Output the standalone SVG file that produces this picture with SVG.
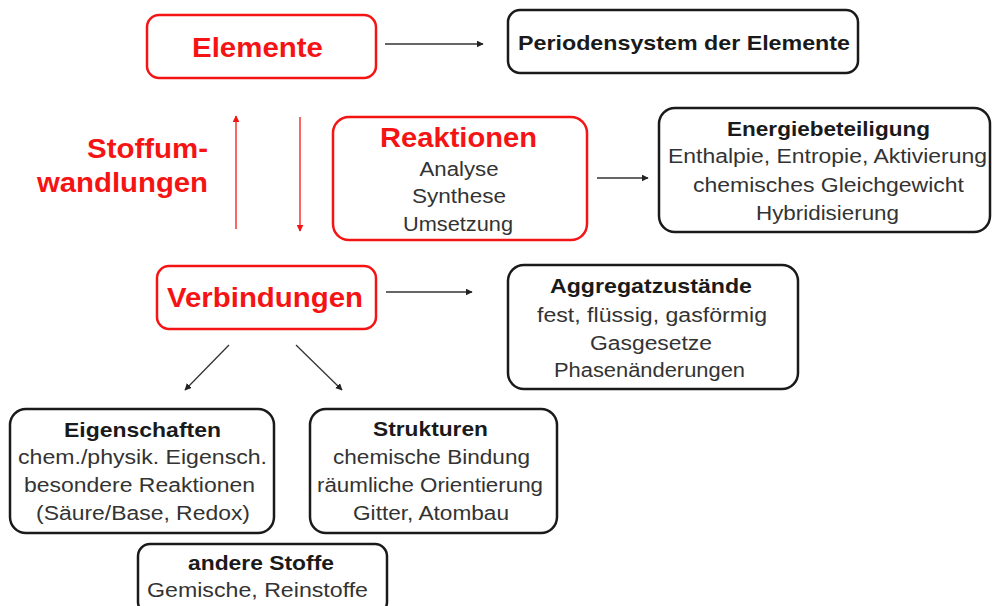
<svg xmlns="http://www.w3.org/2000/svg" width="992" height="606" viewBox="0 0 992 606">
  <defs>
    <style>
      .red-box { fill: #fff; stroke: #f51414; stroke-width: 2.5; }
      .box { fill: #fff; stroke: #1a1a1a; stroke-width: 2.5; }
      text { font-family: "Liberation Sans", Arial, sans-serif; text-anchor: middle; }
      .red-title { font-weight: bold; font-size: 28px; fill: #f51414; }
      .side { font-weight: bold; font-size: 28px; fill: #f51414; text-anchor: end; }
      .title { font-weight: bold; font-size: 20.5px; fill: #1a1a1a; }
      .body { font-size: 19.5px; fill: #333; }
      .conn { stroke: #333; stroke-width: 1.3; fill: none; }
      .conn-red { stroke: #f51414; stroke-width: 1.3; fill: none; }
    </style>
    <marker id="arrow" viewBox="0 0 10 10" refX="9" refY="5" markerWidth="7" markerHeight="7" orient="auto" markerUnits="userSpaceOnUse">
      <path d="M0,0 L10,5 L0,10 z" fill="#222"/>
    </marker>
    <marker id="arrow-red" viewBox="0 0 10 10" refX="9" refY="5" markerWidth="7" markerHeight="7" orient="auto" markerUnits="userSpaceOnUse">
      <path d="M0,0 L10,5 L0,10 z" fill="#f51414"/>
    </marker>
  </defs>

  <rect width="992" height="606" fill="#fff"/>

  <!-- connectors -->
  <g id="connectors">
    <line class="conn" x1="385" y1="44" x2="483" y2="44" marker-end="url(#arrow)"/>
    <line class="conn-red" x1="236" y1="229" x2="236" y2="116" marker-end="url(#arrow-red)"/>
    <line class="conn-red" x1="300" y1="117" x2="300" y2="231" marker-end="url(#arrow-red)"/>
    <line class="conn" x1="597" y1="178" x2="648" y2="178" marker-end="url(#arrow)"/>
    <line class="conn" x1="386" y1="292" x2="472" y2="292" marker-end="url(#arrow)"/>
    <line class="conn" x1="229" y1="345" x2="185" y2="390" marker-end="url(#arrow)"/>
    <line class="conn" x1="296" y1="345" x2="342" y2="390" marker-end="url(#arrow)"/>
  </g>

  <!-- side label, right-aligned -->
  <g id="stoffumwandlungen">
    <text class="side" x="208" y="158" textLength="121" lengthAdjust="spacingAndGlyphs">Stoffum-</text>
    <text class="side" x="208" y="192" textLength="171" lengthAdjust="spacingAndGlyphs">wandlungen</text>
  </g>

  <g id="elemente">
    <rect class="red-box" x="147" y="15" width="229" height="63" rx="12"/>
    <text class="red-title" x="257.5" y="57" textLength="131" lengthAdjust="spacingAndGlyphs">Elemente</text>
  </g>

  <g id="periodensystem">
    <rect class="box" x="508" y="10" width="350" height="63" rx="12"/>
    <text class="title" x="684" y="50" textLength="332" lengthAdjust="spacingAndGlyphs">Periodensystem der Elemente</text>
  </g>

  <g id="reaktionen">
    <rect class="red-box" x="333" y="117" width="254" height="123" rx="16"/>
    <text class="red-title" x="458.5" y="147" textLength="157" lengthAdjust="spacingAndGlyphs">Reaktionen</text>
    <text class="body" x="459" y="176" textLength="79" lengthAdjust="spacingAndGlyphs">Analyse</text>
    <text class="body" x="459" y="203" textLength="94" lengthAdjust="spacingAndGlyphs">Synthese</text>
    <text class="body" x="458" y="231" textLength="110" lengthAdjust="spacingAndGlyphs">Umsetzung</text>
  </g>

  <g id="energiebeteiligung">
    <rect class="box" x="659" y="108" width="331" height="124" rx="16"/>
    <text class="title" x="828.5" y="136" textLength="203" lengthAdjust="spacingAndGlyphs">Energiebeteiligung</text>
    <text class="body" x="827.5" y="163" textLength="319" lengthAdjust="spacingAndGlyphs">Enthalpie, Entropie, Aktivierung</text>
    <text class="body" x="828.5" y="192" textLength="271" lengthAdjust="spacingAndGlyphs">chemisches Gleichgewicht</text>
    <text class="body" x="827.5" y="220" textLength="143" lengthAdjust="spacingAndGlyphs">Hybridisierung</text>
  </g>

  <g id="verbindungen">
    <rect class="red-box" x="157" y="266" width="219" height="63" rx="12"/>
    <text class="red-title" x="265" y="307" textLength="196" lengthAdjust="spacingAndGlyphs">Verbindungen</text>
  </g>

  <g id="aggregatzustaende">
    <rect class="box" x="508" y="265" width="290" height="124" rx="16"/>
    <text class="title" x="651" y="293" textLength="202" lengthAdjust="spacingAndGlyphs">Aggregatzustände</text>
    <text class="body" x="652" y="322" textLength="230" lengthAdjust="spacingAndGlyphs">fest, flüssig, gasförmig</text>
    <text class="body" x="651" y="350" textLength="122" lengthAdjust="spacingAndGlyphs">Gasgesetze</text>
    <text class="body" x="649.5" y="377" textLength="191" lengthAdjust="spacingAndGlyphs">Phasenänderungen</text>
  </g>

  <g id="eigenschaften">
    <rect class="box" x="10" y="409" width="264" height="124" rx="16"/>
    <text class="title" x="142.5" y="437" textLength="157" lengthAdjust="spacingAndGlyphs">Eigenschaften</text>
    <text class="body" x="142.5" y="464" textLength="249" lengthAdjust="spacingAndGlyphs">chem./physik. Eigensch.</text>
    <text class="body" x="139.5" y="492" textLength="231" lengthAdjust="spacingAndGlyphs">besondere Reaktionen</text>
    <text class="body" x="143" y="520" textLength="214" lengthAdjust="spacingAndGlyphs">(Säure/Base, Redox)</text>
  </g>

  <g id="strukturen">
    <rect class="box" x="310" y="409" width="247" height="124" rx="16"/>
    <text class="title" x="430.5" y="436" textLength="115" lengthAdjust="spacingAndGlyphs">Strukturen</text>
    <text class="body" x="431.5" y="464" textLength="197" lengthAdjust="spacingAndGlyphs">chemische Bindung</text>
    <text class="body" x="430" y="492" textLength="226" lengthAdjust="spacingAndGlyphs">räumliche Orientierung</text>
    <text class="body" x="431" y="520" textLength="156" lengthAdjust="spacingAndGlyphs">Gitter, Atombau</text>
  </g>

  <g id="andere-stoffe">
    <rect class="box" x="138" y="544" width="249" height="70" rx="12"/>
    <text class="title" x="261" y="570" textLength="146" lengthAdjust="spacingAndGlyphs">andere Stoffe</text>
    <text class="body" x="257.5" y="597" textLength="221" lengthAdjust="spacingAndGlyphs">Gemische, Reinstoffe</text>
  </g>
</svg>
